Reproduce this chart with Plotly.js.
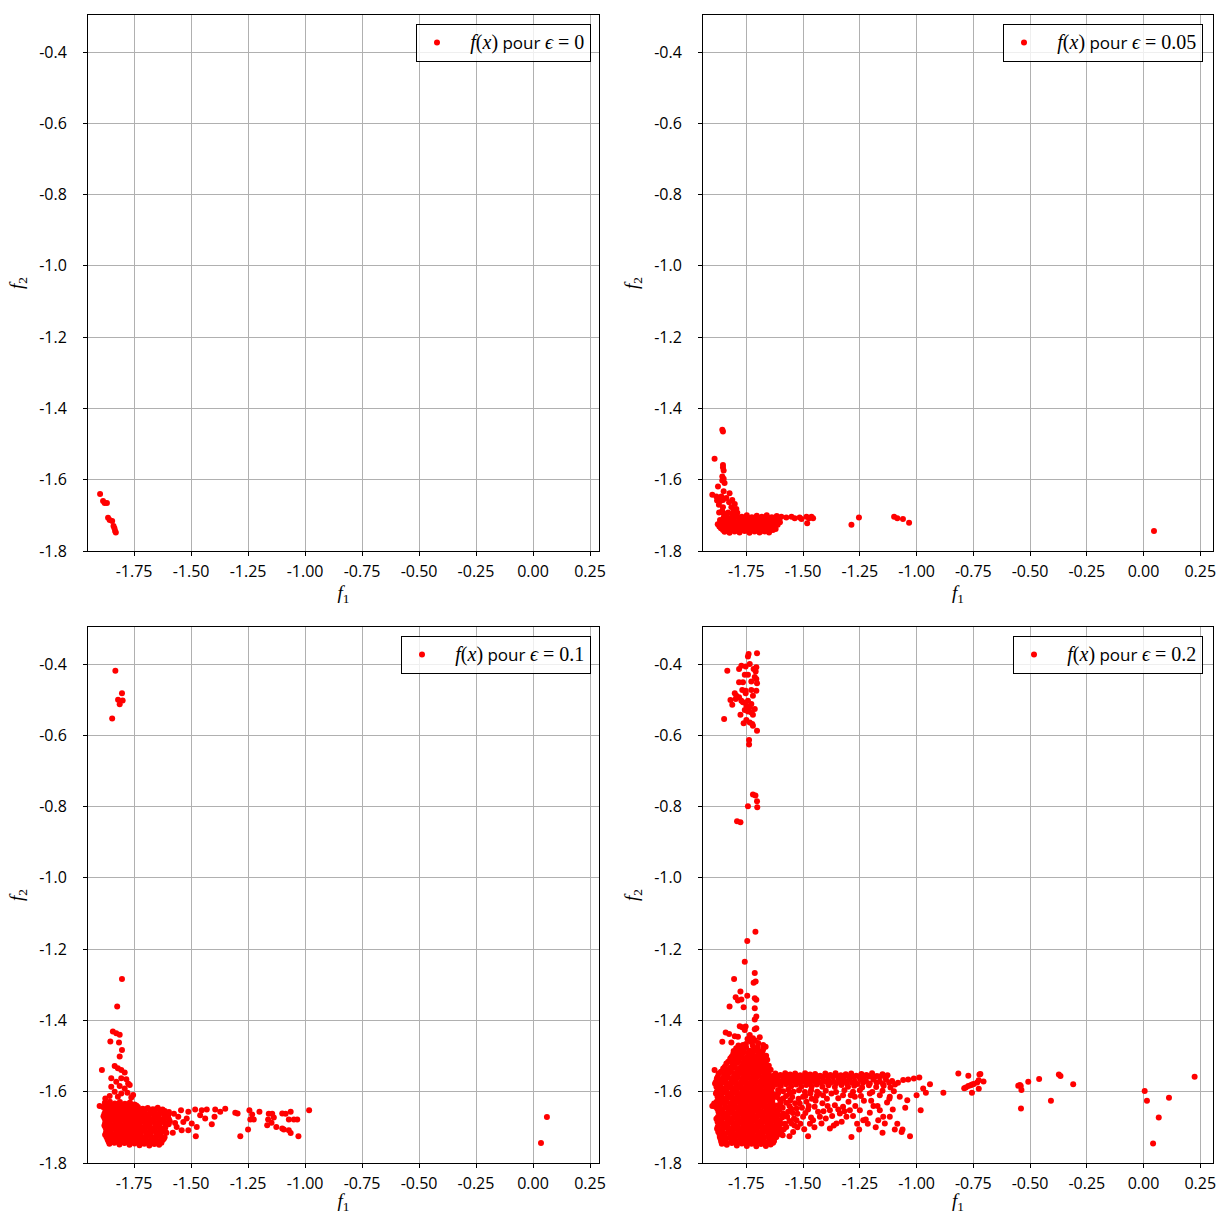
<!DOCTYPE html>
<html><head><meta charset="utf-8">
<script src="https://cdn.plot.ly/plotly-3.0.1.min.js"></script>
<style>body{margin:0;background:#fff}#chart{width:1218px;height:1214px}</style>
</head><body><div id="chart"></div>
<script>
// ---------------- data ----------------
const epsLabels = ['0', '0.05', '0.1', '0.2'];

const xTickVals = [-1.75, -1.5, -1.25, -1.0, -0.75, -0.5, -0.25, 0.0, 0.25];
const xTickText = ['-1.75', '-1.50', '-1.25', '-1.00', '-0.75', '-0.50', '-0.25', '0.00', '0.25'];
const yTickVals = [-1.8, -1.6, -1.4, -1.2, -1.0, -0.8, -0.6, -0.4];
const yTickText = ['-1.8', '-1.6', '-1.4', '-1.2', '-1.0', '-0.8', '-0.6', '-0.4'];

// eps = 0
const eps0_points = [
  [-1.899,-1.640],[-1.886,-1.660],[-1.879,-1.665],[-1.869,-1.665],[-1.864,-1.707],
  [-1.857,-1.713],[-1.846,-1.716],[-1.840,-1.730],[-1.836,-1.736],[-1.833,-1.744],[-1.830,-1.748]
];

// eps = 0.05
const eps005_points = [
  [-1.856,-1.460],[-1.853,-1.465],[-1.890,-1.541],
  [-1.853,-1.559],[-1.853,-1.566],[-1.850,-1.574],[-1.856,-1.591],[-1.850,-1.597],[-1.856,-1.602],[-1.846,-1.609],
  [-1.875,-1.619],[-1.850,-1.632],[-1.900,-1.642],[-1.824,-1.638],
  [-1.882,-1.647],[-1.871,-1.651],[-1.860,-1.647],[-1.879,-1.658],[-1.865,-1.660],[-1.853,-1.657],
  [-1.838,-1.651],[-1.826,-1.663],[-1.812,-1.657],[-1.801,-1.668],[-1.871,-1.670],[-1.853,-1.677],
  [-1.816,-1.677],[-1.794,-1.682],[-1.856,-1.687],[-1.806,-1.687],
  [-1.870,-1.692],[-1.850,-1.695],[-1.830,-1.692],[-1.810,-1.696],[-1.790,-1.693],
  [-1.574,-1.706],[-1.551,-1.704],[-1.537,-1.708],[-1.515,-1.706],[-1.507,-1.710],[-1.485,-1.704],
  [-1.474,-1.708],[-1.463,-1.704],[-1.456,-1.708],[-1.482,-1.722],
  [-1.287,-1.726],[-1.254,-1.706],
  [-1.099,-1.704],[-1.085,-1.708],[-1.060,-1.710],[-1.033,-1.721],
  [0.046,-1.744]
];
const eps005_band = [
  [-1.838,-1.702],[-1.815,-1.705],[-1.792,-1.701],[-1.770,-1.704],[-1.748,-1.700],[-1.726,-1.705],[-1.704,-1.701],[-1.682,-1.704],[-1.660,-1.700],[-1.638,-1.705],[-1.616,-1.702],[-1.596,-1.704],
  [-1.850,-1.707],[-1.827,-1.709],[-1.804,-1.707],[-1.781,-1.709],[-1.759,-1.707],[-1.737,-1.709],[-1.715,-1.707],[-1.693,-1.709],[-1.671,-1.707],[-1.649,-1.709],[-1.627,-1.707],[-1.606,-1.709],
  [-1.866,-1.713],[-1.846,-1.716],[-1.824,-1.712],[-1.802,-1.717],[-1.780,-1.713],[-1.758,-1.716],[-1.736,-1.712],[-1.714,-1.717],[-1.692,-1.713],[-1.670,-1.716],[-1.648,-1.712],[-1.626,-1.717],[-1.605,-1.713],
  [-1.865,-1.719],[-1.843,-1.721],[-1.821,-1.719],[-1.799,-1.721],[-1.777,-1.719],[-1.755,-1.721],[-1.733,-1.719],[-1.711,-1.721],[-1.689,-1.719],[-1.667,-1.721],[-1.645,-1.719],[-1.623,-1.721],[-1.602,-1.719],
  [-1.876,-1.725],[-1.854,-1.728],[-1.832,-1.724],[-1.810,-1.729],[-1.788,-1.725],[-1.766,-1.728],[-1.744,-1.724],[-1.722,-1.729],[-1.700,-1.725],[-1.678,-1.728],[-1.656,-1.724],[-1.634,-1.729],[-1.612,-1.726],
  [-1.869,-1.731],[-1.847,-1.733],[-1.825,-1.731],[-1.803,-1.733],[-1.781,-1.731],[-1.759,-1.733],[-1.737,-1.731],[-1.715,-1.733],[-1.693,-1.731],[-1.671,-1.733],[-1.649,-1.731],[-1.627,-1.733],
  [-1.862,-1.736],[-1.840,-1.739],[-1.818,-1.735],[-1.796,-1.740],[-1.774,-1.736],[-1.752,-1.739],[-1.730,-1.735],[-1.708,-1.740],[-1.686,-1.736],[-1.664,-1.739],[-1.642,-1.735],[-1.621,-1.738],
  [-1.853,-1.741],[-1.831,-1.743],[-1.809,-1.741],[-1.787,-1.743],[-1.765,-1.741],[-1.743,-1.743],[-1.721,-1.741],[-1.699,-1.743],[-1.677,-1.741],[-1.655,-1.743],[-1.633,-1.741],
  [-1.846,-1.746],[-1.824,-1.749],[-1.802,-1.745],[-1.780,-1.748],[-1.758,-1.744],[-1.736,-1.749],[-1.714,-1.745],[-1.692,-1.748],[-1.670,-1.745],[-1.650,-1.748]
];

// eps = 0.1
const eps01_points = [
  [-1.832,-0.419],[-1.803,-0.482],[-1.820,-0.500],[-1.800,-0.502],[-1.813,-0.513],[-1.846,-0.553],
  [-1.803,-1.284],[-1.824,-1.361],[-1.843,-1.431],[-1.828,-1.436],[-1.813,-1.440],[-1.854,-1.459],
  [-1.816,-1.462],[-1.803,-1.483],[-1.813,-1.501],[-1.891,-1.539],
  [-1.835,-1.528],[-1.821,-1.534],[-1.806,-1.539],[-1.791,-1.546],
  [-1.850,-1.562],[-1.806,-1.562],[-1.776,-1.577],[-1.828,-1.572],[-1.784,-1.565],
  [-1.850,-1.586],[-1.813,-1.584],[-1.791,-1.591],[-1.769,-1.581],[-1.835,-1.600],[-1.806,-1.605],
  [-1.779,-1.603],[-1.754,-1.609],[-1.857,-1.612],[-1.821,-1.614],[-1.762,-1.616],
  [-1.876,-1.619],[-1.901,-1.640],
  [-1.544,-1.652],[-1.556,-1.670],[-1.534,-1.685],[-1.512,-1.656],[-1.519,-1.675],[-1.497,-1.689],
  [-1.482,-1.650],[-1.460,-1.666],[-1.475,-1.699],[-1.453,-1.652],[-1.431,-1.650],[-1.438,-1.675],
  [-1.409,-1.691],[-1.397,-1.670],[-1.479,-1.725],[-1.541,-1.708],[-1.563,-1.699],[-1.394,-1.650],
  [-1.372,-1.656],[-1.350,-1.648],[-1.512,-1.708],[-1.575,-1.662],[-1.570,-1.688],[-1.580,-1.715],
  [-1.306,-1.659],[-1.296,-1.661],[-1.284,-1.725],[-1.250,-1.706],[-1.244,-1.652],[-1.232,-1.664],
  [-1.240,-1.678],[-1.225,-1.678],[-1.200,-1.656],[-1.159,-1.662],[-1.144,-1.662],[-1.162,-1.678],
  [-1.137,-1.672],[-1.147,-1.687],[-1.166,-1.694],[-1.126,-1.699],[-1.100,-1.703],[-1.093,-1.706],
  [-1.100,-1.661],[-1.085,-1.662],[-1.063,-1.656],[-1.071,-1.678],[-1.049,-1.678],[-1.034,-1.678],
  [-1.071,-1.708],[-1.063,-1.716],[-1.029,-1.725],[-0.982,-1.652],
  [0.035,-1.744],[0.061,-1.671]
];
const eps01_block = [
  [-1.878,-1.631],[-1.856,-1.628],[-1.834,-1.633],[-1.812,-1.629],[-1.790,-1.634],[-1.768,-1.630],[-1.748,-1.636],
  [-1.867,-1.636],[-1.845,-1.638],[-1.823,-1.636],[-1.801,-1.638],[-1.779,-1.636],[-1.758,-1.638],[-1.740,-1.639],
  [-1.886,-1.643],[-1.864,-1.640],[-1.842,-1.645],[-1.820,-1.641],[-1.798,-1.646],[-1.776,-1.642],[-1.754,-1.647],[-1.733,-1.643],[-1.712,-1.648],[-1.690,-1.646],[-1.668,-1.649],[-1.646,-1.645],[-1.625,-1.650],
  [-1.875,-1.649],[-1.853,-1.651],[-1.831,-1.649],[-1.809,-1.651],[-1.787,-1.649],[-1.765,-1.651],[-1.743,-1.649],[-1.722,-1.652],[-1.701,-1.650],[-1.679,-1.652],[-1.657,-1.650],[-1.636,-1.652],[-1.615,-1.654],
  [-1.876,-1.656],[-1.854,-1.653],[-1.832,-1.658],[-1.810,-1.654],[-1.788,-1.659],[-1.766,-1.655],[-1.744,-1.660],[-1.723,-1.656],[-1.701,-1.661],[-1.679,-1.657],[-1.657,-1.662],[-1.636,-1.658],[-1.614,-1.663],[-1.597,-1.657],
  [-1.880,-1.662],[-1.858,-1.664],[-1.836,-1.662],[-1.814,-1.664],[-1.792,-1.662],[-1.770,-1.664],[-1.748,-1.662],[-1.727,-1.664],[-1.705,-1.662],[-1.683,-1.664],[-1.661,-1.662],[-1.640,-1.664],[-1.618,-1.662],[-1.600,-1.665],
  [-1.884,-1.669],[-1.862,-1.666],[-1.840,-1.671],[-1.818,-1.667],[-1.796,-1.672],[-1.774,-1.668],[-1.752,-1.673],[-1.731,-1.669],[-1.709,-1.674],[-1.687,-1.670],[-1.665,-1.675],[-1.644,-1.671],[-1.622,-1.676],[-1.602,-1.670],
  [-1.879,-1.675],[-1.857,-1.677],[-1.835,-1.675],[-1.813,-1.677],[-1.791,-1.675],[-1.769,-1.677],[-1.747,-1.675],[-1.726,-1.677],[-1.704,-1.675],[-1.682,-1.677],[-1.660,-1.675],[-1.639,-1.677],[-1.617,-1.675],[-1.597,-1.677],
  [-1.874,-1.682],[-1.852,-1.679],[-1.830,-1.684],[-1.808,-1.680],[-1.786,-1.685],[-1.764,-1.681],[-1.742,-1.686],[-1.721,-1.682],[-1.699,-1.687],[-1.677,-1.683],[-1.655,-1.688],[-1.634,-1.684],[-1.612,-1.689],[-1.593,-1.683],
  [-1.877,-1.688],[-1.855,-1.690],[-1.833,-1.688],[-1.811,-1.690],[-1.789,-1.688],[-1.767,-1.690],[-1.745,-1.688],[-1.724,-1.690],[-1.702,-1.688],[-1.680,-1.690],[-1.658,-1.688],[-1.637,-1.690],[-1.615,-1.688],[-1.598,-1.691],
  [-1.880,-1.695],[-1.858,-1.692],[-1.836,-1.697],[-1.814,-1.693],[-1.792,-1.698],[-1.770,-1.694],[-1.748,-1.699],[-1.727,-1.695],[-1.705,-1.700],[-1.683,-1.696],[-1.661,-1.701],[-1.640,-1.697],[-1.618,-1.702],
  [-1.875,-1.701],[-1.853,-1.703],[-1.831,-1.701],[-1.809,-1.703],[-1.787,-1.701],[-1.765,-1.703],[-1.743,-1.701],[-1.722,-1.703],[-1.700,-1.701],[-1.678,-1.703],[-1.656,-1.701],[-1.635,-1.703],[-1.613,-1.701],
  [-1.870,-1.708],[-1.848,-1.705],[-1.826,-1.710],[-1.804,-1.706],[-1.782,-1.711],[-1.760,-1.707],[-1.738,-1.712],[-1.717,-1.708],[-1.695,-1.713],[-1.673,-1.709],[-1.651,-1.714],[-1.630,-1.710],[-1.608,-1.715],
  [-1.873,-1.714],[-1.851,-1.716],[-1.829,-1.714],[-1.807,-1.716],[-1.785,-1.714],[-1.763,-1.716],[-1.741,-1.714],[-1.720,-1.716],[-1.698,-1.714],[-1.676,-1.716],[-1.654,-1.714],[-1.633,-1.716],[-1.612,-1.714],
  [-1.877,-1.721],[-1.855,-1.718],[-1.833,-1.723],[-1.811,-1.719],[-1.789,-1.724],[-1.767,-1.720],[-1.745,-1.725],[-1.724,-1.721],[-1.702,-1.726],[-1.680,-1.722],[-1.658,-1.727],[-1.637,-1.723],[-1.616,-1.728],
  [-1.871,-1.727],[-1.849,-1.729],[-1.827,-1.727],[-1.805,-1.729],[-1.783,-1.727],[-1.761,-1.729],[-1.739,-1.727],[-1.718,-1.729],[-1.696,-1.727],[-1.674,-1.729],[-1.652,-1.727],[-1.631,-1.729],[-1.620,-1.733],
  [-1.866,-1.734],[-1.844,-1.731],[-1.822,-1.736],[-1.800,-1.732],[-1.778,-1.737],[-1.756,-1.733],[-1.734,-1.738],[-1.713,-1.734],[-1.691,-1.739],[-1.669,-1.735],[-1.647,-1.740],[-1.626,-1.736],
  [-1.862,-1.740],[-1.840,-1.742],[-1.818,-1.740],[-1.796,-1.742],[-1.774,-1.740],[-1.752,-1.742],[-1.730,-1.740],[-1.709,-1.742],[-1.687,-1.740],[-1.665,-1.742],[-1.644,-1.740],[-1.630,-1.743],
  [-1.858,-1.746],[-1.836,-1.743],[-1.814,-1.748],[-1.792,-1.744],[-1.770,-1.749],[-1.748,-1.745],[-1.726,-1.750],[-1.705,-1.746],[-1.683,-1.751],[-1.661,-1.747],[-1.640,-1.749]
];

// eps = 0.2
const eps02_points = [
  // upper cluster
  [-1.740,-0.372],[-1.703,-0.370],[-1.743,-0.379],[-1.834,-0.419],[-1.782,-0.414],[-1.772,-0.405],
  [-1.753,-0.407],[-1.735,-0.400],[-1.718,-0.414],[-1.706,-0.409],[-1.709,-0.421],[-1.757,-0.430],
  [-1.743,-0.430],[-1.713,-0.436],[-1.706,-0.442],[-1.782,-0.451],[-1.765,-0.451],[-1.728,-0.449],
  [-1.703,-0.454],[-1.768,-0.473],[-1.753,-0.475],[-1.728,-0.473],[-1.706,-0.475],[-1.801,-0.482],
  [-1.794,-0.489],[-1.753,-0.482],[-1.721,-0.489],[-1.782,-0.493],[-1.820,-0.501],[-1.797,-0.498],
  [-1.772,-0.503],[-1.765,-0.507],[-1.743,-0.503],[-1.728,-0.512],[-1.812,-0.514],[-1.750,-0.517],
  [-1.735,-0.521],[-1.713,-0.526],[-1.757,-0.529],[-1.728,-0.536],[-1.743,-0.533],[-1.776,-0.542],
  [-1.721,-0.542],[-1.848,-0.554],[-1.750,-0.557],[-1.762,-0.566],[-1.735,-0.564],[-1.724,-0.568],
  [-1.721,-0.573],[-1.703,-0.587],[-1.738,-0.613],[-1.738,-0.626],
  [-1.721,-0.766],[-1.710,-0.769],[-1.703,-0.785],[-1.743,-0.799],[-1.702,-0.802],
  [-1.791,-0.841],[-1.776,-0.844],
  // spike
  [-1.710,-1.151],[-1.746,-1.177],[-1.757,-1.235],[-1.713,-1.267],[-1.709,-1.291],[-1.718,-1.294],
  [-1.804,-1.284],[-1.776,-1.319],[-1.797,-1.335],[-1.787,-1.344],[-1.772,-1.341],[-1.746,-1.331],
  [-1.713,-1.338],[-1.706,-1.342],[-1.824,-1.361],[-1.762,-1.363],[-1.713,-1.366],[-1.706,-1.389],
  [-1.713,-1.397],[-1.779,-1.416],[-1.768,-1.419],[-1.753,-1.417],[-1.757,-1.427],[-1.713,-1.425],
  [-1.706,-1.422],[-1.841,-1.434],[-1.826,-1.438],[-1.801,-1.444],[-1.787,-1.446],[-1.735,-1.441],
  [-1.721,-1.450],[-1.691,-1.447],[-1.856,-1.460],[-1.816,-1.462],[-1.765,-1.469],[-1.676,-1.469],
  [-1.665,-1.474],[-1.890,-1.539],[-1.900,-1.640],
  [-1.745,-1.452],[-1.730,-1.460],[-1.712,-1.456],[-1.698,-1.463],[-1.752,-1.466],[-1.785,-1.470],
  [-1.722,-1.470],[-1.700,-1.475],
  // lower scattered band
  [-1.610,-1.605],[-1.588,-1.619],[-1.574,-1.631],[-1.556,-1.624],[-1.596,-1.642],[-1.566,-1.656],
  [-1.529,-1.647],[-1.515,-1.633],[-1.500,-1.614],[-1.485,-1.628],[-1.468,-1.605],[-1.449,-1.642],
  [-1.434,-1.656],[-1.426,-1.670],[-1.456,-1.680],[-1.500,-1.670],[-1.529,-1.680],[-1.551,-1.689],
  [-1.574,-1.699],[-1.544,-1.713],[-1.478,-1.725],[-1.419,-1.689],[-1.400,-1.675],[-1.382,-1.652],
  [-1.360,-1.638],[-1.338,-1.661],[-1.324,-1.642],[-1.309,-1.670],[-1.294,-1.652],[-1.287,-1.727],
  [-1.253,-1.706],[-1.235,-1.680],[-1.224,-1.678],[-1.250,-1.652],[-1.206,-1.659],[-1.162,-1.652],
  [-1.147,-1.670],[-1.169,-1.680],[-1.140,-1.689],[-1.118,-1.670],[-1.096,-1.706],[-1.062,-1.706],
  [-1.066,-1.713],[-1.041,-1.624],[-1.029,-1.725],[-0.982,-1.652],[-1.412,-1.610],[-1.375,-1.605],
  [-1.324,-1.610],[-1.272,-1.614],[-1.206,-1.605],[-1.162,-1.610],[-1.118,-1.614],[-1.074,-1.614],
  [-1.353,-1.689],[-1.382,-1.703],[-1.588,-1.661],[-1.603,-1.680],[-1.596,-1.717],[-1.618,-1.727],
  [-1.615,-1.615],[-1.598,-1.628],[-1.605,-1.650],[-1.592,-1.672],[-1.580,-1.690],[-1.606,-1.700],
  [-1.585,-1.705],[-1.560,-1.640],[-1.545,-1.660],[-1.538,-1.695],[-1.520,-1.620],[-1.505,-1.645],
  [-1.490,-1.660],[-1.475,-1.640],[-1.462,-1.620],[-1.470,-1.690],[-1.440,-1.612],[-1.415,-1.632],
  [-1.395,-1.620],[-1.372,-1.668],[-1.345,-1.618],[-1.330,-1.684],[-1.300,-1.628],[-1.270,-1.640],
  [-1.262,-1.690],[-1.232,-1.625],[-1.190,-1.640],[-1.180,-1.700],[-1.130,-1.630],[-1.105,-1.650],
  [-1.085,-1.690],[-1.050,-1.645],
  [-1.617,-1.612],[-1.602,-1.622],[-1.610,-1.638],[-1.590,-1.645],[-1.612,-1.660],[-1.598,-1.690],
  [-1.612,-1.712],[-1.590,-1.722],[-1.575,-1.612],[-1.560,-1.605],[-1.548,-1.615],[-1.535,-1.632],
  [-1.552,-1.648],[-1.570,-1.670],[-1.560,-1.682],[-1.540,-1.675],[-1.525,-1.662],[-1.512,-1.690],
  [-1.495,-1.705],[-1.525,-1.700],[-1.560,-1.725],[-1.490,-1.612],[-1.478,-1.650],[-1.465,-1.672],
  [-1.450,-1.700],[-1.445,-1.625],[-1.430,-1.605],[-1.410,-1.655],[-1.392,-1.640],[-1.365,-1.695],
  [-1.345,-1.650],[-1.318,-1.655],[-1.290,-1.610],[-1.280,-1.668],[-1.245,-1.612],[-1.215,-1.690],
  [-1.200,-1.625],[-1.172,-1.640],[-1.150,-1.715],[-1.120,-1.620],
  [-1.059,-1.567],[-1.037,-1.566],[-1.012,-1.563],[-0.988,-1.560],[-0.941,-1.579],[-0.971,-1.591],
  [-0.959,-1.603],[-1.000,-1.610],[-0.882,-1.603],
  // far right
  [-0.816,-1.549],[-0.772,-1.555],[-0.790,-1.590],[-0.783,-1.588],[-0.772,-1.584],[-0.762,-1.582],
  [-0.755,-1.580],[-0.748,-1.578],[-0.733,-1.574],[-0.726,-1.568],[-0.723,-1.552],[-0.719,-1.550],
  [-0.705,-1.571],[-0.726,-1.592],[-0.756,-1.603],[-0.552,-1.583],[-0.545,-1.581],[-0.541,-1.584],
  [-0.538,-1.595],[-0.540,-1.647],[-0.508,-1.572],[-0.460,-1.564],[-0.408,-1.625],[-0.373,-1.552],
  [-0.366,-1.556],[-0.310,-1.579],[0.005,-1.598],[0.015,-1.625],[0.112,-1.617],[0.067,-1.672],
  [0.042,-1.745],[0.225,-1.558]
];
const eps02_block = [
  [-1.795,-1.478],[-1.772,-1.482],[-1.751,-1.476],[-1.733,-1.485],[-1.712,-1.479],[-1.694,-1.487],[-1.676,-1.481],
  [-1.806,-1.486],[-1.784,-1.489],[-1.762,-1.486],[-1.740,-1.489],[-1.718,-1.486],[-1.698,-1.489],[-1.679,-1.487],
  [-1.808,-1.494],[-1.786,-1.497],[-1.764,-1.492],[-1.742,-1.499],[-1.721,-1.494],[-1.703,-1.501],[-1.684,-1.495],[-1.663,-1.499],
  [-1.815,-1.502],[-1.793,-1.505],[-1.771,-1.502],[-1.749,-1.505],[-1.728,-1.502],[-1.708,-1.505],[-1.689,-1.502],[-1.669,-1.505],
  [-1.821,-1.507],[-1.799,-1.511],[-1.777,-1.506],[-1.756,-1.513],[-1.735,-1.508],[-1.716,-1.514],[-1.697,-1.509],[-1.677,-1.515],[-1.658,-1.510],
  [-1.830,-1.516],[-1.808,-1.519],[-1.786,-1.516],[-1.764,-1.519],[-1.743,-1.516],[-1.722,-1.519],[-1.702,-1.516],[-1.683,-1.519],[-1.664,-1.516],
  [-1.838,-1.521],[-1.811,-1.524],[-1.789,-1.519],[-1.768,-1.527],[-1.747,-1.521],[-1.727,-1.528],[-1.707,-1.522],[-1.688,-1.529],[-1.668,-1.523],[-1.651,-1.527],
  [-1.845,-1.530],[-1.822,-1.533],[-1.800,-1.530],[-1.778,-1.533],[-1.757,-1.530],[-1.736,-1.533],[-1.716,-1.530],[-1.696,-1.533],[-1.676,-1.530],[-1.657,-1.533],
  [-1.852,-1.535],[-1.829,-1.538],[-1.806,-1.533],[-1.784,-1.540],[-1.762,-1.534],[-1.741,-1.541],[-1.722,-1.535],[-1.701,-1.542],[-1.681,-1.536],[-1.662,-1.543],[-1.643,-1.538],
  [-1.862,-1.544],[-1.840,-1.547],[-1.817,-1.544],[-1.795,-1.547],[-1.773,-1.544],[-1.752,-1.547],[-1.731,-1.544],[-1.711,-1.547],[-1.691,-1.544],[-1.671,-1.547],[-1.652,-1.544],
  [-1.872,-1.549],[-1.848,-1.552],[-1.826,-1.547],[-1.803,-1.554],[-1.781,-1.548],[-1.760,-1.555],[-1.739,-1.549],[-1.718,-1.556],[-1.697,-1.550],[-1.676,-1.557],[-1.656,-1.551],[-1.636,-1.556],
  [-1.876,-1.558],[-1.853,-1.561],[-1.831,-1.558],[-1.809,-1.561],[-1.787,-1.558],[-1.765,-1.561],[-1.744,-1.558],[-1.723,-1.561],[-1.702,-1.558],[-1.681,-1.561],[-1.661,-1.558],[-1.641,-1.561],
  [-1.880,-1.563],[-1.858,-1.566],[-1.836,-1.561],[-1.814,-1.568],[-1.792,-1.562],[-1.770,-1.569],[-1.749,-1.563],[-1.728,-1.570],[-1.708,-1.564],[-1.687,-1.571],[-1.666,-1.565],[-1.646,-1.570],[-1.627,-1.566],
  [-1.884,-1.572],[-1.862,-1.575],[-1.840,-1.572],[-1.818,-1.575],[-1.796,-1.572],[-1.774,-1.575],[-1.752,-1.572],[-1.731,-1.575],[-1.711,-1.572],[-1.690,-1.575],[-1.669,-1.572],[-1.649,-1.575],[-1.630,-1.572],
  [-1.888,-1.577],[-1.865,-1.580],[-1.843,-1.575],[-1.821,-1.582],[-1.799,-1.576],[-1.777,-1.583],[-1.755,-1.577],[-1.734,-1.584],[-1.713,-1.578],[-1.692,-1.585],[-1.671,-1.579],[-1.651,-1.584],[-1.632,-1.580],
  [-1.882,-1.586],[-1.859,-1.589],[-1.837,-1.586],[-1.815,-1.589],[-1.793,-1.586],[-1.771,-1.589],[-1.750,-1.586],[-1.729,-1.589],[-1.708,-1.586],[-1.687,-1.589],[-1.666,-1.586],[-1.646,-1.589],[-1.634,-1.587],
  [-1.876,-1.591],[-1.853,-1.594],[-1.831,-1.589],[-1.809,-1.596],[-1.787,-1.590],[-1.765,-1.597],[-1.744,-1.591],[-1.723,-1.598],[-1.702,-1.592],[-1.681,-1.599],[-1.660,-1.593],[-1.640,-1.598],
  [-1.880,-1.600],[-1.858,-1.603],[-1.836,-1.600],[-1.814,-1.603],[-1.792,-1.600],[-1.770,-1.603],[-1.749,-1.600],[-1.728,-1.603],[-1.707,-1.600],[-1.686,-1.603],[-1.665,-1.600],[-1.645,-1.603],
  [-1.884,-1.605],[-1.862,-1.608],[-1.840,-1.603],[-1.818,-1.610],[-1.796,-1.604],[-1.774,-1.611],[-1.753,-1.605],[-1.732,-1.612],[-1.711,-1.606],[-1.690,-1.613],[-1.669,-1.607],[-1.648,-1.612],[-1.629,-1.608],
  [-1.877,-1.614],[-1.855,-1.617],[-1.833,-1.614],[-1.811,-1.617],[-1.789,-1.614],[-1.767,-1.617],[-1.746,-1.614],[-1.725,-1.617],[-1.704,-1.614],[-1.683,-1.617],[-1.662,-1.614],[-1.642,-1.617],[-1.630,-1.615],
  [-1.870,-1.619],[-1.848,-1.622],[-1.826,-1.617],[-1.804,-1.624],[-1.782,-1.618],[-1.760,-1.625],[-1.739,-1.619],[-1.718,-1.626],[-1.697,-1.620],[-1.676,-1.627],[-1.655,-1.621],[-1.636,-1.625],
  [-1.881,-1.628],[-1.859,-1.631],[-1.837,-1.628],[-1.815,-1.631],[-1.793,-1.628],[-1.771,-1.631],[-1.750,-1.628],[-1.729,-1.631],[-1.708,-1.628],[-1.687,-1.631],[-1.666,-1.628],[-1.645,-1.631],
  [-1.892,-1.633],[-1.866,-1.636],[-1.844,-1.631],[-1.822,-1.638],[-1.800,-1.632],[-1.778,-1.639],[-1.757,-1.633],[-1.736,-1.640],[-1.715,-1.634],[-1.694,-1.641],[-1.673,-1.635],[-1.652,-1.640],[-1.632,-1.636],
  [-1.886,-1.642],[-1.867,-1.645],[-1.844,-1.642],[-1.822,-1.645],[-1.800,-1.642],[-1.778,-1.645],[-1.757,-1.642],[-1.736,-1.645],[-1.715,-1.642],[-1.694,-1.645],[-1.673,-1.642],[-1.652,-1.645],[-1.632,-1.643],
  [-1.878,-1.648],[-1.855,-1.651],[-1.833,-1.646],[-1.811,-1.653],[-1.789,-1.647],[-1.767,-1.654],[-1.746,-1.648],[-1.725,-1.655],[-1.704,-1.649],[-1.683,-1.656],[-1.662,-1.650],[-1.642,-1.655],[-1.621,-1.651],
  [-1.873,-1.656],[-1.851,-1.659],[-1.829,-1.656],[-1.807,-1.659],[-1.785,-1.656],[-1.763,-1.659],[-1.742,-1.656],[-1.721,-1.659],[-1.700,-1.656],[-1.679,-1.659],[-1.658,-1.656],[-1.638,-1.659],[-1.617,-1.657],
  [-1.868,-1.662],[-1.845,-1.665],[-1.823,-1.660],[-1.801,-1.667],[-1.779,-1.661],[-1.757,-1.668],[-1.736,-1.662],[-1.715,-1.669],[-1.694,-1.663],[-1.673,-1.670],[-1.652,-1.664],[-1.631,-1.669],[-1.610,-1.665],
  [-1.875,-1.670],[-1.853,-1.673],[-1.831,-1.670],[-1.809,-1.673],[-1.787,-1.670],[-1.765,-1.673],[-1.744,-1.670],[-1.723,-1.673],[-1.702,-1.670],[-1.681,-1.673],[-1.660,-1.670],[-1.640,-1.673],[-1.619,-1.671],
  [-1.882,-1.676],[-1.860,-1.679],[-1.838,-1.674],[-1.816,-1.681],[-1.794,-1.675],[-1.772,-1.682],[-1.751,-1.676],[-1.730,-1.683],[-1.709,-1.677],[-1.688,-1.684],[-1.667,-1.678],[-1.646,-1.683],[-1.625,-1.679],[-1.606,-1.684],
  [-1.877,-1.684],[-1.855,-1.687],[-1.833,-1.684],[-1.811,-1.687],[-1.789,-1.684],[-1.767,-1.687],[-1.746,-1.684],[-1.725,-1.687],[-1.704,-1.684],[-1.683,-1.687],[-1.662,-1.684],[-1.641,-1.687],[-1.620,-1.685],
  [-1.872,-1.690],[-1.850,-1.693],[-1.828,-1.688],[-1.806,-1.695],[-1.784,-1.689],[-1.762,-1.696],[-1.741,-1.690],[-1.720,-1.697],[-1.699,-1.691],[-1.678,-1.698],[-1.657,-1.692],[-1.636,-1.697],[-1.615,-1.693],
  [-1.876,-1.698],[-1.854,-1.701],[-1.832,-1.698],[-1.810,-1.701],[-1.788,-1.698],[-1.766,-1.701],[-1.745,-1.698],[-1.724,-1.701],[-1.703,-1.698],[-1.682,-1.701],[-1.661,-1.698],[-1.640,-1.701],[-1.619,-1.699],
  [-1.879,-1.704],[-1.857,-1.707],[-1.835,-1.702],[-1.813,-1.709],[-1.791,-1.703],[-1.769,-1.710],[-1.748,-1.704],[-1.727,-1.711],[-1.706,-1.705],[-1.685,-1.712],[-1.664,-1.706],[-1.643,-1.711],[-1.622,-1.707],[-1.603,-1.712],
  [-1.874,-1.712],[-1.852,-1.715],[-1.830,-1.712],[-1.808,-1.715],[-1.786,-1.712],[-1.764,-1.715],[-1.743,-1.712],[-1.722,-1.715],[-1.701,-1.712],[-1.680,-1.715],[-1.659,-1.712],[-1.638,-1.715],[-1.617,-1.713],
  [-1.869,-1.718],[-1.847,-1.721],[-1.825,-1.716],[-1.803,-1.723],[-1.781,-1.717],[-1.759,-1.724],[-1.738,-1.718],[-1.717,-1.725],[-1.696,-1.719],[-1.675,-1.726],[-1.654,-1.720],[-1.633,-1.725],[-1.613,-1.721],
  [-1.867,-1.726],[-1.845,-1.729],[-1.823,-1.726],[-1.801,-1.729],[-1.779,-1.726],[-1.757,-1.729],[-1.736,-1.726],[-1.715,-1.729],[-1.694,-1.726],[-1.673,-1.729],[-1.652,-1.726],[-1.631,-1.729],[-1.620,-1.727],
  [-1.864,-1.732],[-1.842,-1.735],[-1.820,-1.730],[-1.798,-1.737],[-1.776,-1.731],[-1.754,-1.738],[-1.733,-1.732],[-1.712,-1.739],[-1.691,-1.733],[-1.670,-1.740],[-1.649,-1.734],[-1.628,-1.738],
  [-1.861,-1.740],[-1.839,-1.743],[-1.817,-1.740],[-1.795,-1.743],[-1.773,-1.740],[-1.751,-1.743],[-1.730,-1.740],[-1.709,-1.743],[-1.688,-1.740],[-1.667,-1.743],[-1.646,-1.740],[-1.632,-1.743],
  [-1.858,-1.746],[-1.836,-1.749],[-1.814,-1.744],[-1.792,-1.751],[-1.770,-1.745],[-1.748,-1.752],[-1.727,-1.746],[-1.706,-1.753],[-1.685,-1.747],[-1.664,-1.752],[-1.643,-1.748]
];
const eps02_band = [
  [-1.622,-1.549],[-1.600,-1.553],[-1.579,-1.548],[-1.557,-1.552],[-1.535,-1.549],[-1.513,-1.554],[-1.491,-1.548],[-1.469,-1.552],[-1.447,-1.550],[-1.425,-1.555],[-1.402,-1.549],[-1.380,-1.553],[-1.357,-1.548],[-1.334,-1.554],[-1.312,-1.551],[-1.288,-1.549],[-1.266,-1.555],[-1.243,-1.550],[-1.221,-1.553],[-1.196,-1.548],[-1.175,-1.556],[-1.150,-1.551],[-1.128,-1.554],
  [-1.611,-1.557],[-1.589,-1.559],[-1.568,-1.557],[-1.546,-1.559],[-1.524,-1.557],[-1.502,-1.559],[-1.480,-1.557],[-1.458,-1.559],[-1.436,-1.557],[-1.414,-1.559],[-1.391,-1.557],[-1.368,-1.559],[-1.346,-1.557],[-1.323,-1.559],[-1.300,-1.557],[-1.277,-1.559],[-1.254,-1.557],[-1.232,-1.559],[-1.209,-1.557],[-1.186,-1.559],[-1.162,-1.557],[-1.139,-1.559],
  [-1.612,-1.565],[-1.590,-1.569],[-1.568,-1.563],[-1.546,-1.567],[-1.524,-1.564],[-1.502,-1.570],[-1.480,-1.565],[-1.457,-1.568],[-1.435,-1.563],[-1.412,-1.569],[-1.390,-1.566],[-1.366,-1.571],[-1.343,-1.564],[-1.318,-1.569],[-1.296,-1.566],[-1.272,-1.571],[-1.248,-1.565],[-1.223,-1.570],[-1.190,-1.566],[-1.162,-1.571],[-1.135,-1.566],[-1.108,-1.570],[-1.082,-1.575],
  [-1.623,-1.572],[-1.601,-1.574],[-1.579,-1.572],[-1.557,-1.574],[-1.535,-1.572],[-1.513,-1.574],[-1.491,-1.572],[-1.469,-1.574],[-1.446,-1.572],[-1.424,-1.574],[-1.401,-1.572],[-1.378,-1.574],[-1.354,-1.576],[-1.331,-1.573],[-1.307,-1.577],[-1.284,-1.574],[-1.260,-1.578],[-1.236,-1.575],[-1.206,-1.577],[-1.176,-1.574],[-1.148,-1.578],[-1.121,-1.575],[-1.095,-1.580],
  [-1.620,-1.580],[-1.598,-1.584],[-1.575,-1.579],[-1.553,-1.585],[-1.531,-1.580],[-1.508,-1.586],[-1.486,-1.581],[-1.462,-1.585],[-1.440,-1.580],[-1.415,-1.586],[-1.388,-1.582],[-1.360,-1.587],[-1.331,-1.581],[-1.302,-1.586],[-1.275,-1.583],[-1.240,-1.588],[-1.210,-1.582],[-1.178,-1.587],[-1.145,-1.583],[-1.115,-1.588],
  [-1.610,-1.595],[-1.588,-1.599],[-1.565,-1.594],[-1.542,-1.600],[-1.518,-1.596],[-1.492,-1.601],[-1.465,-1.596],[-1.438,-1.600],[-1.400,-1.597],[-1.355,-1.601],[-1.318,-1.596],[-1.280,-1.600],[-1.250,-1.596],[-1.195,-1.601],[-1.150,-1.597],[-1.100,-1.599]
];

// ---------------- build ----------------
const panelData = [
  eps0_points,
  eps005_points.concat(eps005_band),
  eps01_points.concat(eps01_block),
  eps02_points.concat(eps02_block, eps02_band)
];

const serif = "'Liberation Serif', 'DejaVu Serif', serif";
function legendName(eps) {
  return `&#160;&#160;&#160;<span style="font-family:${serif};font-size:20px"><i>f</i>(<i>x</i>)</span> pour <span style="font-family:${serif};font-size:20px"><i>ϵ</i>&#160;=&#160;${eps}</span>`;
}

const axisIds = [['x','y','legend'],['x2','y2','legend2'],['x3','y3','legend3'],['x4','y4','legend4']];
const traces = panelData.map((pts, i) => ({
  type: 'scatter', mode: 'markers',
  x: pts.map(p => p[0]), y: pts.map(p => p[1]),
  xaxis: axisIds[i][0], yaxis: axisIds[i][1], legend: axisIds[i][2],
  name: legendName(epsLabels[i]), showlegend: true,
  marker: {color: '#ff0000', size: 6, line: {width: 0}}
}));

const W = 1218, H = 1214;
const xDomL = [88 / W, 599 / W], xDomR = [703 / W, 1213 / W];
const yDomT = [1 - 551 / H, 1 - 15 / H], yDomB = [1 - 1163 / H, 1 - 627 / H];
const xRangeL = [-1.952, 0.2895], xRangeR = [-1.941, 0.306];
const yRange = [-1.8, -0.296];

const tickFont = {family: "'Open Sans', 'Noto Sans', sans-serif", size: 16, color: '#000'};
const common = {
  showgrid: true, gridcolor: '#b0b0b0', gridwidth: 1, zeroline: false,
  showline: true, mirror: true, linecolor: '#000', linewidth: 1,
  ticks: 'outside', ticklen: 4, tickwidth: 1, tickcolor: '#000',
  tickfont: tickFont, automargin: false
};
function xax(dom, anchor, range) {
  return Object.assign({}, common, {domain: dom, anchor, range, tickmode: 'array', tickvals: xTickVals, ticktext: xTickText,
    ticklabelstandoff: 2,
    title: {text: '<i>f</i><sub>1</sub>', font: {family: serif, size: 19, color: '#000'}, standoff: 4}});
}
function yax(dom, anchor) {
  return Object.assign({}, common, {domain: dom, anchor, range: yRange, tickmode: 'array', tickvals: yTickVals, ticktext: yTickText,
    ticklabelstandoff: 13,
    title: {text: '<i>f</i><sub>2</sub>', font: {family: serif, size: 19, color: '#000'}, standoff: 10}});
}
function leg(xr, yt) {
  return {x: xr, xanchor: 'right', y: yt, yanchor: 'top', bordercolor: '#000', borderwidth: 1,
    bgcolor: 'rgba(255,255,255,0.8)', font: {family: "'Open Sans', 'Noto Sans', sans-serif", size: 17, color: '#000'},
    itemsizing: 'trace'};
}

const layout = {
  width: W, height: H, margin: {l: 0, r: 0, t: 0, b: 0},
  paper_bgcolor: '#fff', plot_bgcolor: '#fff', showlegend: true,
  xaxis: xax(xDomL, 'y', xRangeL), yaxis: yax(yDomT, 'x'),
  xaxis2: xax(xDomR, 'y2', xRangeR), yaxis2: yax(yDomT, 'x2'),
  xaxis3: xax(xDomL, 'y3', xRangeL), yaxis3: yax(yDomB, 'x3'),
  xaxis4: xax(xDomR, 'y4', xRangeR), yaxis4: yax(yDomB, 'x4'),
  legend: leg(591 / W, 1 - 24 / H),
  legend2: leg(1203 / W, 1 - 24 / H),
  legend3: leg(591 / W, 1 - 636 / H),
  legend4: leg(1203 / W, 1 - 636 / H)
};

Plotly.newPlot('chart', traces, layout, {displayModeBar: false, staticPlot: true});
</script></body></html>
